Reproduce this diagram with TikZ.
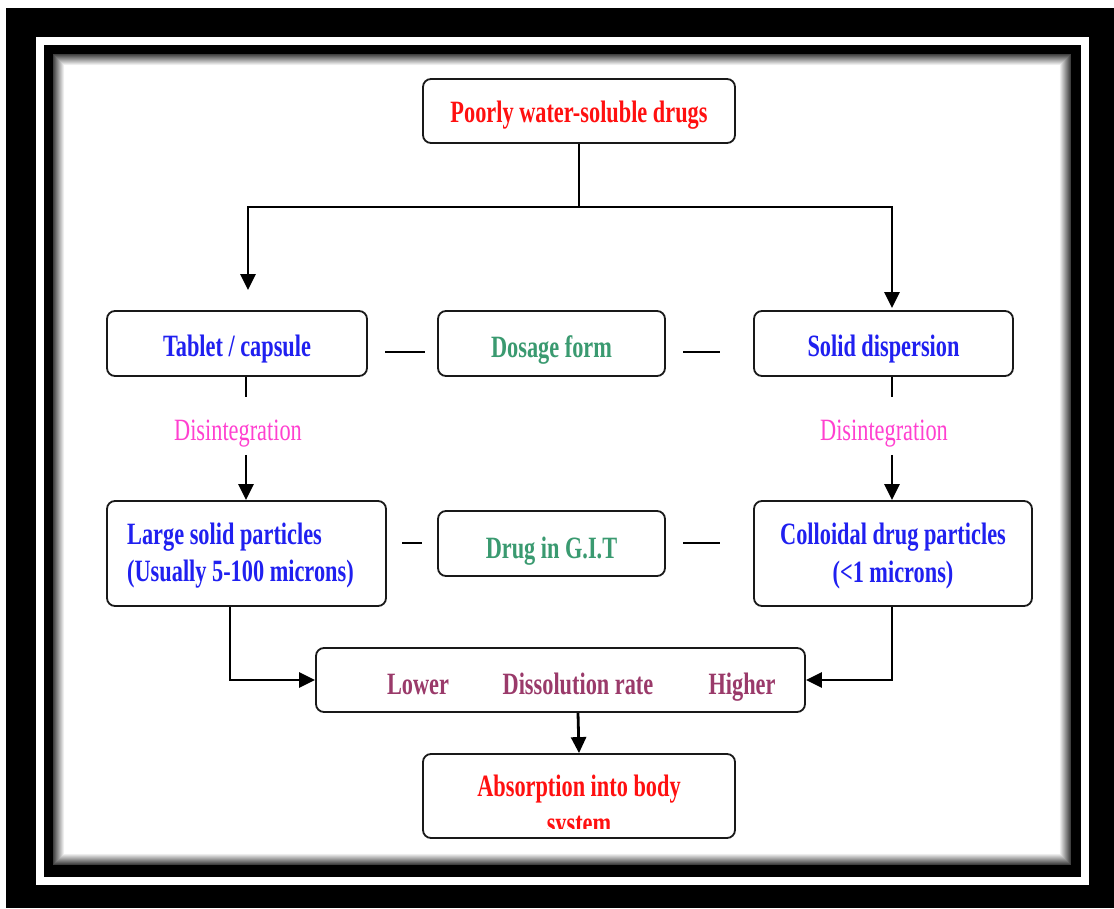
\documentclass[tikz,border=0pt]{standalone}
\usepackage{fontspec}
\setmainfont{Liberation Serif}
\newfontfamily\tf[FakeStretch=0.72]{Liberation Serif}
\usetikzlibrary{arrows.meta}
\definecolor{tred}{HTML}{FF1010}
\definecolor{tblue}{HTML}{2020F0}
\definecolor{tgreen}{HTML}{3A9A70}
\definecolor{tpink}{HTML}{FF40D0}
\definecolor{tpurple}{HTML}{9A3A6A}
\tikzset{
  box/.style={draw=black!90, line width=1.8pt, rounded corners=8pt, inner sep=0pt, fill=white},
  lbl/.style={font=\tf\bfseries\fontsize{31}{36}\selectfont, anchor=base, inner sep=0pt},
  plain/.style={font=\tf\fontsize{31}{36}\selectfont, anchor=base, inner sep=0pt},
  conn/.style={line width=2.8pt, black},
  arr/.style={conn, -{Triangle[length=16pt,width=15pt]}},
}
\begin{document}
\begin{tikzpicture}[x=1pt,y=-1pt]
\useasboundingbox (0,0) rectangle (1114,908);
% frames
\fill[black] (6,8) rectangle (1114,908);
\fill[white] (36,37) rectangle (1089,885);
\fill[black] (44,45) rectangle (1081,877);
\foreach \i in {0,...,11}{
  \pgfmathsetmacro{\p}{75-\i*6.8}
  \fill[black!\p!white] (53+\i,54+\i) rectangle (1071-\i,865-\i);
}
\fill[white] (65,66) rectangle (1059,853);

% nodes
\node[box, minimum width=312pt, minimum height=64pt] (top) at (579,111) {};
\node[lbl, text=tred] (topt) at (579,122) {Poorly water-soluble drugs};

\node[box, minimum width=260pt, minimum height=65pt] (tab) at (237,343.5) {};
\node[lbl, text=tblue] (tabt) at (237,356) {Tablet / capsule};
\node[box, minimum width=227pt, minimum height=65pt] (dos) at (551.5,343.5) {};
\node[lbl, text=tgreen] (dost) at (551.5,357) {Dosage form};
\node[box, minimum width=259pt, minimum height=65pt] (sd) at (883.5,343.5) {};
\node[lbl, text=tblue] (sdt) at (883.5,356) {Solid dispersion};

\node[plain, text=tpink] (dis1) at (238,440) {Disintegration};
\node[plain, text=tpink] (dis2) at (884,440) {Disintegration};

\node[box, minimum width=279pt, minimum height=105pt] (large) at (246.5,553.5) {};
\node[lbl, text=tblue, anchor=base west] (lg1) at (127,544) {Large solid particles};
\node[lbl, text=tblue, anchor=base west] (lg2) at (127,581) {(Usually 5-100 microns)};
\node[box, minimum width=227pt, minimum height=65pt] (git) at (551.5,543.5) {};
\node[lbl, text=tgreen] (gitt) at (551.5,558) {Drug in G.I.T};
\node[box, minimum width=278pt, minimum height=105pt] (coll) at (893,553.5) {};
\node[lbl, text=tblue] (co1) at (893,544) {Colloidal drug particles};
\node[lbl, text=tblue] (co2) at (893,582) {(<1 microns)};

\node[box, minimum width=489pt, minimum height=64pt] (diss) at (560.5,680) {};
\node[lbl, text=tpurple] (lower) at (418,694) {Lower};
\node[lbl, text=tpurple] (drate) at (578,694) {Dissolution rate};
\node[lbl, text=tpurple] (higher) at (742,694) {Higher};

\node[box, minimum width=312pt, minimum height=84pt] (abs) at (579,796) {};
\node[lbl, text=tred] (abs1) at (579,796) {Absorption into body};
\begin{scope}
\clip (424,755) rectangle (734,828);
\node[lbl, text=tred] (abs2) at (579,833) {system};
\end{scope}

% dashes
\draw[conn] (385,352) -- (425,352);
\draw[conn] (683,352) -- (720,352);
\draw[conn] (402,543) -- (422,543);
\draw[conn] (683,543) -- (720,543);

% connectors
\coordinate (la) at (248,290);
\coordinate (ra) at (892,308);
\draw[conn] (top.south) -- (579,207) coordinate (j);
\draw[arr] (j) -| (la);
\draw[arr] (j) -| (ra);

\draw[conn] ([xshift=9pt]tab.south) -- ([xshift=8pt,yshift=22pt]dis1.north);
\draw[arr] ([xshift=8pt,yshift=-8pt]dis1.south) -- ([xshift=-0.5pt]large.north);
\draw[conn] ([xshift=8.5pt]sd.south) -- ([xshift=8pt,yshift=22pt]dis2.north);
\draw[arr] ([xshift=8pt,yshift=-8pt]dis2.south) -- ([xshift=-1pt]coll.north);

\draw[arr] ([xshift=-16.5pt]large.south) |- (diss.west);
\draw[arr] ([xshift=-1pt]coll.south) |- (diss.east);
\draw[arr] ([xshift=17.5pt]diss.south) -- (abs.north);
\end{tikzpicture}
\end{document}
